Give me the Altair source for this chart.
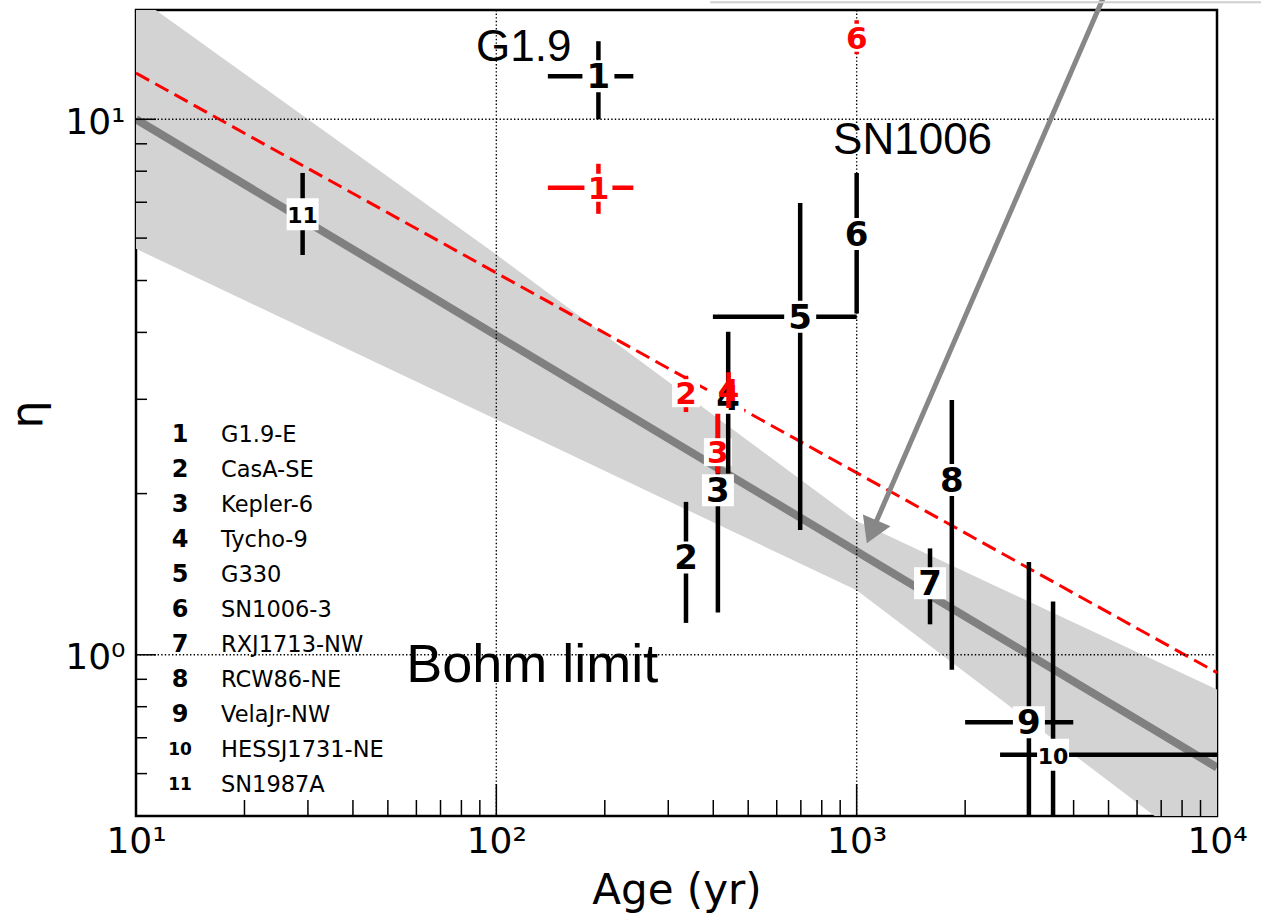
import altair as alt
import pandas as pd

alt.data_transformers.disable_max_rows()

# ---------------------------------------------------------------- sources
src_ids = [1, 2, 3, 4, 5, 6, 7, 8, 9, 10, 11]
src_names = ["G1.9-E", "CasA-SE", "Kepler-6", "Tycho-9", "G330", "SN1006-3",
             "RXJ1713-NW", "RCW86-NE", "VelaJr-NW", "HESSJ1731-NE", "SN1987A"]

# black estimates: age (yr), eta with its range, optional age range
blk_ids    = [1, 2, 3, 4, 5, 6, 7, 8, 9, 10, 11]
blk_age    = [192, 336, 412, 440, 697, 1000, 1598, 1837, 3006, 3508, 29]
blk_eta    = [12.04, 1.52, 2.03, 3.02, 4.28, 6.11, 1.36, 2.12, 0.748, 0.651, 6.65]
blk_eta_lo = [10.0, 1.147, 1.20, 2.18, 1.71, 4.34, 1.14, 0.938, 0.45, 0.45, 5.58]
blk_eta_hi = [13.99, 1.93, 2.84, 4.01, 6.98, 7.94, 1.58, 2.99, 1.49, 1.257, 7.94]
blk_age_lo = [139, None, None, None, 399, None, None, None, 2000, 2500, None]
blk_age_hi = [240, None, None, None, 1000, None, None, None, 3991, 12000, None]
blk_boxed  = [True] * 11

# red estimates
red_ids    = [1, 2, 3, 4, 6]
red_age    = [192, 336, 412, 441, 1000]
red_eta    = [7.45, 3.08, 2.39, 3.12, 14.2]
red_eta_lo = [6.66, 2.84, 2.18, 2.89, 13.23]
red_eta_hi = [8.26, 3.32, 2.83, 3.37, 15.31]
red_age_lo = [139, None, None, None, None]
red_age_hi = [240, None, None, None, None]
red_boxed  = [True, True, True, False, True]

# power-law fit, its uncertainty band and the Bohm-limit line
fit_age  = [10, 10000]
fit_eta  = [10.0, 0.616]
bohm_eta = [12.2, 0.926]
band_age = [10, 100, 1000, 10000]
band_hi  = [17.0, 5.59, 1.777, 0.861]
band_lo  = [5.73, 2.75, 1.32, 0.408]

# annotations
ann_text = ["G1.9", "SN1006", "Bohm limit"]
ann_age  = [87.8, 860, 56.2]
ann_eta  = [12.84, 8.62, 0.891]
ann_size = [44, 44, 54]

# arrow pointing at the fit
arrow_age = [5060, 1100]
arrow_eta = [18.1, 1.693]
arrow_tip_age = [1067]
arrow_tip_eta = [1.615]

# thin frame edge of the box above the panel
edge_age = [392, 14000]
edge_eta = [16.54]

# ticks
x_tick_vals = [10, 100, 1000, 10000]
x_tick_text = ["10¹", "10²", "10³", "10⁴"]
y_tick_vals = [1, 10]
y_tick_text = ["10⁰", "10¹"]
x_minor = [20, 30, 40, 50, 60, 70, 80, 90, 200, 300, 400, 500, 600, 700, 800, 900,
           2000, 3000, 4000, 5000, 6000, 7000, 8000, 9000]
x_major = [100, 1000]
y_minor = [0.5, 0.6, 0.7, 0.8, 0.9, 2, 3, 4, 5, 6, 7, 8, 9]
y_major = [1, 10]

# ---------------------------------------------------------------- layout
W, H = 1081, 806
FONT = "DejaVu Sans"

xs = alt.Scale(type="log", domain=[10, 10000], nice=False)
ys = alt.Scale(type="log", domain=[0.5, 16], nice=False)


def expr(vals, texts):
    return "".join(f"datum.value == {v} ? '{t}' : " for v, t in zip(vals, texts)) + "''"


ax_x = alt.Axis(values=x_tick_vals, labelExpr=expr(x_tick_vals, x_tick_text), title="Age (yr)",
                grid=False, ticks=False, tickSize=0, domain=False,
                labelFont=FONT, labelFontSize=36, labelColor="black", labelPadding=8,
                labelFlush=False, labelOverlap=False,
                titleFont=FONT, titleFontSize=42, titleFontWeight="normal", titleColor="black",
                titleX=W / 2, titleY=87, titleBaseline="alphabetic", titleAlign="center")
ax_y = alt.Axis(values=y_tick_vals, labelExpr=expr(y_tick_vals, y_tick_text), title="η",
                grid=False, ticks=False, tickSize=0, domain=False,
                labelFont=FONT, labelFontSize=36, labelColor="black", labelPadding=11,
                labelBaseline="middle", labelAlign="right", labelOffset=3,
                labelOverlap=False, labelFlush=False,
                titleFont=FONT, titleFontSize=44, titleFontWeight="normal", titleColor="black",
                titleAngle=270, titleX=-95, titleY=404, titleBaseline="alphabetic",
                titleAlign="center")


def X(f):
    return alt.X(f, type="quantitative", scale=xs, axis=ax_x)


def Y(f):
    return alt.Y(f, type="quantitative", scale=ys, axis=ax_y)


# ---------------------------------------------------------------- band & lines
band_df = pd.DataFrame({"age": band_age, "hi": band_hi, "lo": band_lo})
band = alt.Chart(band_df).mark_area(color="#d3d3d3", opacity=1, clip=True).encode(
    x=X("age"), y=Y("hi"), y2="lo")

fit_df = pd.DataFrame({"age": fit_age, "fit": fit_eta, "bohm": bohm_eta})
fit_line = alt.Chart(fit_df).mark_line(color="#808080", strokeWidth=8, clip=True).encode(
    x=X("age"), y=Y("fit"))
bohm_line = alt.Chart(fit_df).mark_line(color="#ff0000", strokeWidth=3, strokeDash=[15, 7],
                                        clip=True).encode(x=X("age"), y=Y("bohm"))

# dotted grid at the decades
gx = alt.Chart(pd.DataFrame({"v": x_major})).mark_rule(
    color="black", strokeWidth=1.4, strokeDash=[1.4, 2.2]).encode(
    x=X("v"), y=alt.value(0), y2=alt.value(H))
gy = alt.Chart(pd.DataFrame({"v": y_major})).mark_rule(
    color="black", strokeWidth=1.4, strokeDash=[1.4, 2.2]).encode(
    y=Y("v"), x=alt.value(0), x2=alt.value(W))


# inward tick marks
def xticks(vals, length):
    return alt.Chart(pd.DataFrame({"v": vals})).mark_rule(color="black", strokeWidth=1.5).encode(
        x=X("v"), y=alt.value(H), y2=alt.value(H - length))


def yticks(vals, length):
    return alt.Chart(pd.DataFrame({"v": vals})).mark_rule(color="black", strokeWidth=1.5).encode(
        y=Y("v"), x=alt.value(0), x2=alt.value(length))


ticks = [xticks(x_minor, 16), xticks(x_major, 32), yticks(y_minor, 11), yticks(y_major, 20)]

# ---------------------------------------------------------------- error bars
rows = []
series = [
    ("black", blk_ids, blk_age, blk_eta, blk_eta_lo, blk_eta_hi, blk_age_lo, blk_age_hi, blk_boxed),
    ("#ff0000", red_ids, red_age, red_eta, red_eta_lo, red_eta_hi, red_age_lo, red_age_hi, red_boxed),
]
for i in src_ids:
    for color, ids, age, eta, lo, hi, alo, ahi, boxed in series:
        if i in ids:
            j = ids.index(i)
            rows.append({"key": len(rows), "color": color, "lab": str(i), "age": age[j],
                         "eta": eta[j], "eta_lo": lo[j], "eta_hi": hi[j],
                         "age_lo": alo[j], "age_hi": ahi[j], "boxed": boxed[j]})
pts = pd.DataFrame(rows)

point_layers = []
for r in rows:
    red = r["color"] != "black"
    fs = 31 if red else (34 if len(r["lab"]) == 1 else 22)
    box = 28 if red else 32
    base = alt.Chart(pts).transform_filter(alt.datum.key == r["key"])
    point_layers.append(base.mark_rule(color=r["color"], strokeWidth=4.5, clip=True).encode(
        x=X("age"), y=Y("eta_lo"), y2="eta_hi"))
    if r["age_lo"] is not None:
        point_layers.append(base.mark_rule(color=r["color"], strokeWidth=4.5, clip=True).encode(
            x=X("age_lo"), x2="age_hi", y=Y("eta")))
    if r["boxed"]:
        point_layers.append(base.mark_square(size=box * box, color="white", opacity=1,
                                             strokeWidth=0, clip=True).encode(
            x=X("age"), y=Y("eta")))
    point_layers.append(base.mark_text(color=r["color"], font=FONT, fontWeight="bold",
                                       fontSize=fs, baseline="middle", align="center",
                                       dy=2).encode(
        x=X("age"), y=Y("eta"), text="lab:N"))

# ---------------------------------------------------------------- annotations
ann_df = pd.DataFrame({"t": ann_text, "age": ann_age, "eta": ann_eta, "fs": ann_size})
ann = alt.Chart(ann_df).mark_text(font="Liberation Sans", color="black", align="left",
                                  baseline="alphabetic").encode(
    x=X("age"), y=Y("eta"), text="t:N", size=alt.Size("fs:Q", scale=None, legend=None))

arrow_df = pd.DataFrame({"age": arrow_age, "eta": arrow_eta})
arrow = alt.Chart(arrow_df).mark_line(color="#878787", strokeWidth=5, clip=False).encode(
    x=X("age"), y=Y("eta"))
head = alt.Chart(pd.DataFrame({"age": arrow_tip_age, "eta": arrow_tip_eta})).mark_point(
    shape="M0,0L-0.6,-1L0.6,-1Z", filled=True, size=2500, angle=23.3, color="#878787",
    opacity=1, strokeWidth=0, clip=False).encode(x=X("age"), y=Y("eta"))

edge = alt.Chart(pd.DataFrame({"a": [edge_age[0]], "b": [edge_age[1]], "eta": edge_eta})).mark_rule(
    color="#cfcfcf", strokeWidth=2, clip=False).encode(x=X("a"), x2="b", y=Y("eta"))

main = alt.layer(band, fit_line, bohm_line, gx, gy, *ticks, *point_layers, ann, arrow, head, edge)

# ---------------------------------------------------------------- key of sources
leg_df = pd.DataFrame({"row": list(range(len(src_ids))), "num": [str(i) for i in src_ids],
                       "name": src_names})
leg_y = alt.Y("row:Q", scale=alt.Scale(domain=[0, 10], range=[424.8, 774.8]), axis=None)
leg_num = alt.Chart(leg_df).transform_calculate(
    fs="length(datum.num) > 1 ? 17 : 24").mark_text(
    font=FONT, fontWeight="bold", color="black", align="center", baseline="middle").encode(
    x=alt.value(44), y=leg_y, text="num:N", size=alt.Size("fs:Q", scale=None, legend=None))
leg_name = alt.Chart(leg_df).mark_text(
    font=FONT, fontSize=22.5, color="black", align="left", baseline="middle").encode(
    x=alt.value(85), y=leg_y, text="name:N")
key = alt.layer(leg_num, leg_name)

chart = alt.layer(main, key).resolve_scale(y="independent").properties(
    width=W, height=H,
    autosize=alt.AutoSizeParams(type="none"),
    padding={"left": 136, "top": 10, "right": 44, "bottom": 97},
    background="white",
).configure_view(stroke="black", strokeWidth=2.5)

chart.save("out.html", embed_options={"renderer": "svg", "actions": False})
